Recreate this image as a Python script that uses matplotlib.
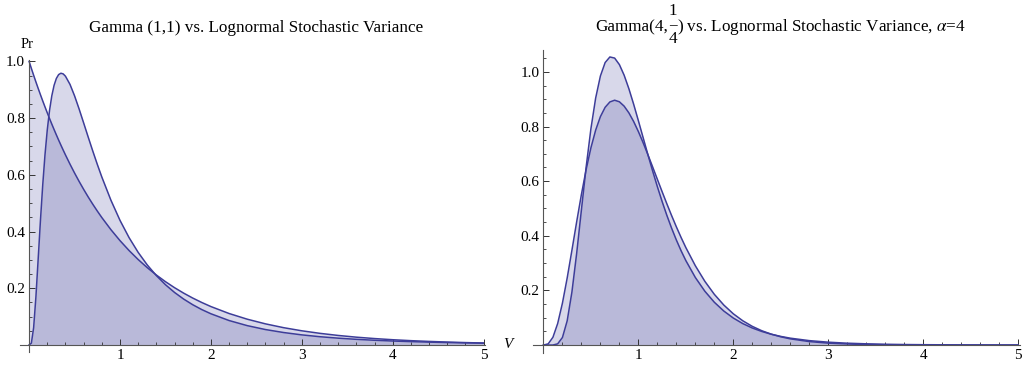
import matplotlib
matplotlib.use("Agg")
import matplotlib.pyplot as plt
from matplotlib.ticker import MultipleLocator

plt.rcParams['font.family'] = 'Liberation Serif'
plt.rcParams['mathtext.fontset'] = 'stix'

# left panel: Gamma(1,1) vs lognormal
x_left = [0, 0.025, 0.05, 0.075, 0.1, 0.125, 0.15, 0.175, 0.2, 0.225, 0.25, 0.275,
          0.3, 0.325, 0.35, 0.375, 0.4, 0.45, 0.5, 0.55, 0.6, 0.65, 0.7, 0.75, 0.8,
          0.9, 1.0, 1.1, 1.2, 1.3, 1.4, 1.5, 1.6, 1.7, 1.8, 1.9, 2.0, 2.2, 2.4, 2.6,
          2.8, 3.0, 3.2, 3.4, 3.6, 3.8, 4.0, 4.2, 4.4, 4.6, 4.8, 5.0]
gamma_left = [1.0, 0.9753, 0.9512, 0.9277, 0.9048, 0.8825, 0.8607, 0.8395, 0.8187,
              0.7985, 0.7788, 0.7596, 0.7408, 0.7225, 0.7047, 0.6873, 0.6703, 0.6376,
              0.6065, 0.5769, 0.5488, 0.5220, 0.4966, 0.4724, 0.4493, 0.4066, 0.3679,
              0.3329, 0.3012, 0.2725, 0.2466, 0.2231, 0.2019, 0.1827, 0.1653, 0.1496,
              0.1353, 0.1108, 0.0907, 0.0743, 0.0608, 0.0498, 0.0408, 0.0334, 0.0273,
              0.0224, 0.0183, 0.0150, 0.0123, 0.0101, 0.0082, 0.0067]
logn_left = [0.0, 0.0061, 0.0607, 0.1692, 0.3033, 0.4394, 0.5639, 0.6708, 0.7583,
             0.8271, 0.8788, 0.9157, 0.9399, 0.9535, 0.9583, 0.9560, 0.9479, 0.9190,
             0.8788, 0.8325, 0.7832, 0.7334, 0.6845, 0.6373, 0.5924, 0.5106, 0.4394,
             0.3784, 0.3264, 0.2821, 0.2445, 0.2124, 0.1851, 0.1618, 0.1418, 0.1246,
             0.1099, 0.0860, 0.0680, 0.0542, 0.0437, 0.0354, 0.0289, 0.0238, 0.0197,
             0.0164, 0.0137, 0.0116, 0.0098, 0.0083, 0.0071, 0.0061]

# right panel: Gamma(4,1/4) vs lognormal
x_right = [0, 0.05, 0.1, 0.15, 0.2, 0.25, 0.3, 0.35, 0.4, 0.45, 0.5, 0.55, 0.6, 0.65,
           0.7, 0.75, 0.8, 0.85, 0.9, 0.95, 1.0, 1.05, 1.1, 1.15, 1.2, 1.25, 1.3,
           1.35, 1.4, 1.45, 1.5, 1.6, 1.7, 1.8, 1.9, 2.0, 2.1, 2.2, 2.3, 2.4, 2.5,
           2.6, 2.8, 3.0, 3.2, 3.4, 3.6, 3.8, 4.0, 4.5, 5.0]
gamma_right = [0.0, 0.0044, 0.0286, 0.0790, 0.1534, 0.2453, 0.3470, 0.4511, 0.5513,
               0.6427, 0.7218, 0.7866, 0.8361, 0.8703, 0.8899, 0.8962, 0.8905, 0.8745,
               0.8499, 0.8184, 0.7815, 0.7407, 0.6972, 0.6523, 0.6068, 0.5615, 0.5171,
               0.4741, 0.4329, 0.3938, 0.3569, 0.2904, 0.2335, 0.1858, 0.1465, 0.1145,
               0.0889, 0.0685, 0.0525, 0.0399, 0.0303, 0.0228, 0.0128, 0.0071, 0.0039,
               0.0021, 0.0011, 0.0006, 0.0003, 0.0001, 0.0]
logn_right = [0.0, 0.0, 0.0002, 0.0045, 0.0277, 0.0886, 0.1942, 0.3357, 0.4948,
              0.6519, 0.7916, 0.9040, 0.9848, 1.0341, 1.0545, 1.0504, 1.0266, 0.9878,
              0.9383, 0.8818, 0.8213, 0.7593, 0.6975, 0.6375, 0.5799, 0.5256, 0.4749,
              0.4279, 0.3847, 0.3452, 0.3093, 0.2474, 0.1972, 0.1568, 0.1246, 0.0990,
              0.0786, 0.0625, 0.0498, 0.0397, 0.0317, 0.0253, 0.0163, 0.0106, 0.0069,
              0.0046, 0.0030, 0.0020, 0.0014, 0.0005, 0.0002]

x_ticks = [1, 2, 3, 4, 5]
y_ticks = [0.2, 0.4, 0.6, 0.8, 1.0]

col = '#3d3d99'

fig = plt.figure(figsize=(10.23, 3.67), dpi=100)
ax1 = fig.add_axes([20 / 1023, 15 / 367, 464.5 / 1023, 292 / 367])
ax2 = fig.add_axes([533 / 1023, 14 / 367, 487 / 1023, 303 / 367])


def style(ax, xlim, ylim):
    ax.set_xlim(*xlim)
    ax.set_ylim(*ylim)
    ax.patch.set_alpha(0)
    for s in ['top', 'right']:
        ax.spines[s].set_visible(False)
    for s in ['left', 'bottom']:
        ax.spines[s].set_position('zero')
        ax.spines[s].set_color('#555555')
        ax.spines[s].set_linewidth(0.8)
    ax.set_xticks(x_ticks)
    ax.set_xticklabels([str(t) for t in x_ticks])
    ax.set_yticks(y_ticks)
    ax.set_yticklabels(['%.1f' % t for t in y_ticks])
    ax.xaxis.set_minor_locator(MultipleLocator(0.2))
    ax.yaxis.set_minor_locator(MultipleLocator(0.05))
    ax.tick_params(which='major', direction='in', length=4.5, width=0.7,
                   labelsize=11, pad=3, color='#333333')
    ax.tick_params(which='minor', direction='in', length=2.3, width=0.6,
                   color='#333333')


for ax, x, g, l in [(ax1, x_left, gamma_left, logn_left),
                    (ax2, x_right, gamma_right, logn_right)]:
    ax.fill_between(x, g, 0, color=col, alpha=0.2, lw=0)
    ax.fill_between(x, l, 0, color=col, alpha=0.2, lw=0)
    ax.plot(x, g, color=col, lw=1.1)
    ax.plot(x, l, color=col, lw=1.1)

style(ax1, (-0.1, 5.01), (-0.025, 1.005))
style(ax2, (-0.11, 5.02), (-0.029, 1.08))

ax1.text(-0.02, 1.06, 'Pr', fontsize=10.5, ha='center', va='center', clip_on=False)
ax1.text(5.27, 0.0, 'V', fontsize=11, style='italic', ha='center', va='center',
         clip_on=False)

# titles
fig.text(256 / 1023, 1 - 32 / 367, 'Gamma (1,1) vs. Lognormal Stochastic Variance',
         fontsize=12.3, ha='center', va='baseline')
fig.text(668 / 1023, 1 - 31 / 367, 'Gamma(4,', fontsize=12.3, ha='right',
         va='baseline')
fig.text(673 / 1023, 1 - 11 / 367, '1', fontsize=12.3, ha='center', va='center')
fig.text(673 / 1023, 1 - 26 / 367, '\u2013', fontsize=11, ha='center', va='center')
fig.text(673 / 1023, 1 - 39 / 367, '4', fontsize=12.3, ha='center', va='center')
fig.text(677 / 1023, 1 - 31 / 367,
         r') vs. Lognormal Stochastic Variance, $\alpha$=4',
         fontsize=12.3, ha='left', va='baseline')

fig.savefig('out.png', dpi=100)
